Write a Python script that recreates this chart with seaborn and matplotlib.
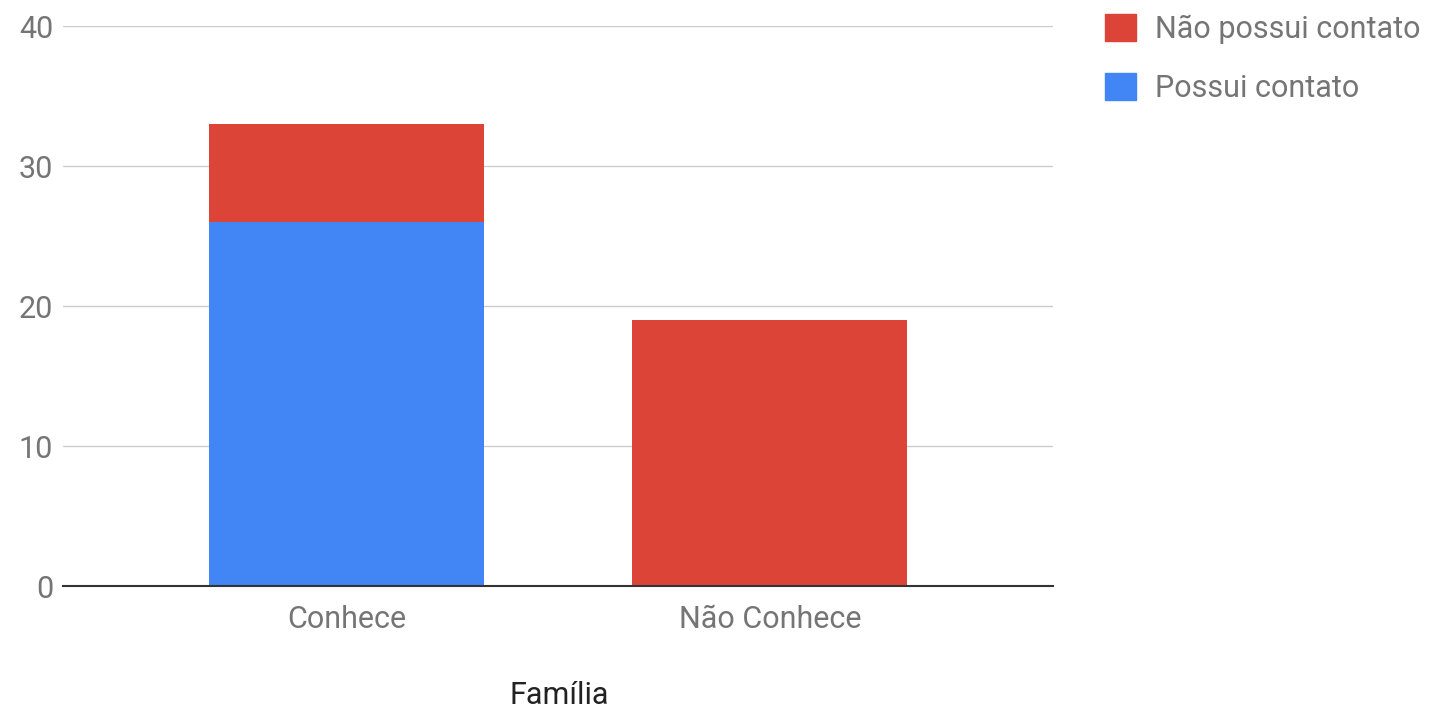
import matplotlib
matplotlib.use("Agg")
import matplotlib.pyplot as plt
import seaborn as sns
import pandas as pd
from matplotlib.patches import Patch

categories = ["Conhece", "Não Conhece"]
possui_contato = [26, 0]
nao_possui_contato = [7, 19]
series_names = ["Não possui contato", "Possui contato"]
y_ticks = [0, 10, 20, 30, 40]

RED = "#DB4437"
BLUE = "#4285F4"

sns.set_theme(style="white")
plt.rcParams["font.family"] = ["Roboto", "DejaVu Sans"]

totals = [a + b for a, b in zip(possui_contato, nao_possui_contato)]
df_total = pd.DataFrame({"cat": categories, "val": totals})
df_blue = pd.DataFrame({"cat": categories, "val": possui_contato})

fig = plt.figure(figsize=(14.41, 7.09), dpi=100)
ax = fig.add_axes([63 / 1441, (709 - 586) / 709, (1053 - 63) / 1441, (586 - 26) / 709])

sns.barplot(data=df_total, x="cat", y="val", color=RED, width=0.65, ax=ax,
            saturation=1, linewidth=0, errorbar=None)
sns.barplot(data=df_blue, x="cat", y="val", color=BLUE, width=0.65, ax=ax,
            saturation=1, linewidth=0, errorbar=None)

ax.set_xlim(-0.671, 1.669)
ax.set_ylim(0, 40)
ax.set_yticks(y_ticks)
ax.yaxis.grid(True, color="#cccccc", linewidth=1)
ax.set_axisbelow(True)
for s in ["top", "right", "left"]:
    ax.spines[s].set_visible(False)
ax.spines["bottom"].set_color("#333333")
ax.spines["bottom"].set_linewidth(1.5)
ax.tick_params(axis="both", length=0, labelsize=22, labelcolor="#757575")
ax.tick_params(axis="x", pad=14)
ax.tick_params(axis="y", pad=7)
ax.set_ylabel("")
ax.set_xlabel("")
fig.text(559 / 1441, 1 - 696 / 709, "Família", fontsize=22, color="#222222",
         ha="center", va="center")

handles = [Patch(facecolor=RED, edgecolor=RED), Patch(facecolor=BLUE, edgecolor=BLUE)]
fig.legend(handles, series_names, loc="upper left", bbox_to_anchor=(1105 / 1441, 1 - 14 / 709),
           frameon=False, fontsize=22, labelcolor="#757575", handlelength=1.0,
           handleheight=1.0, handletextpad=0.65, labelspacing=0.93,
           borderpad=0, borderaxespad=0)

fig.savefig("out.png", dpi=100)
